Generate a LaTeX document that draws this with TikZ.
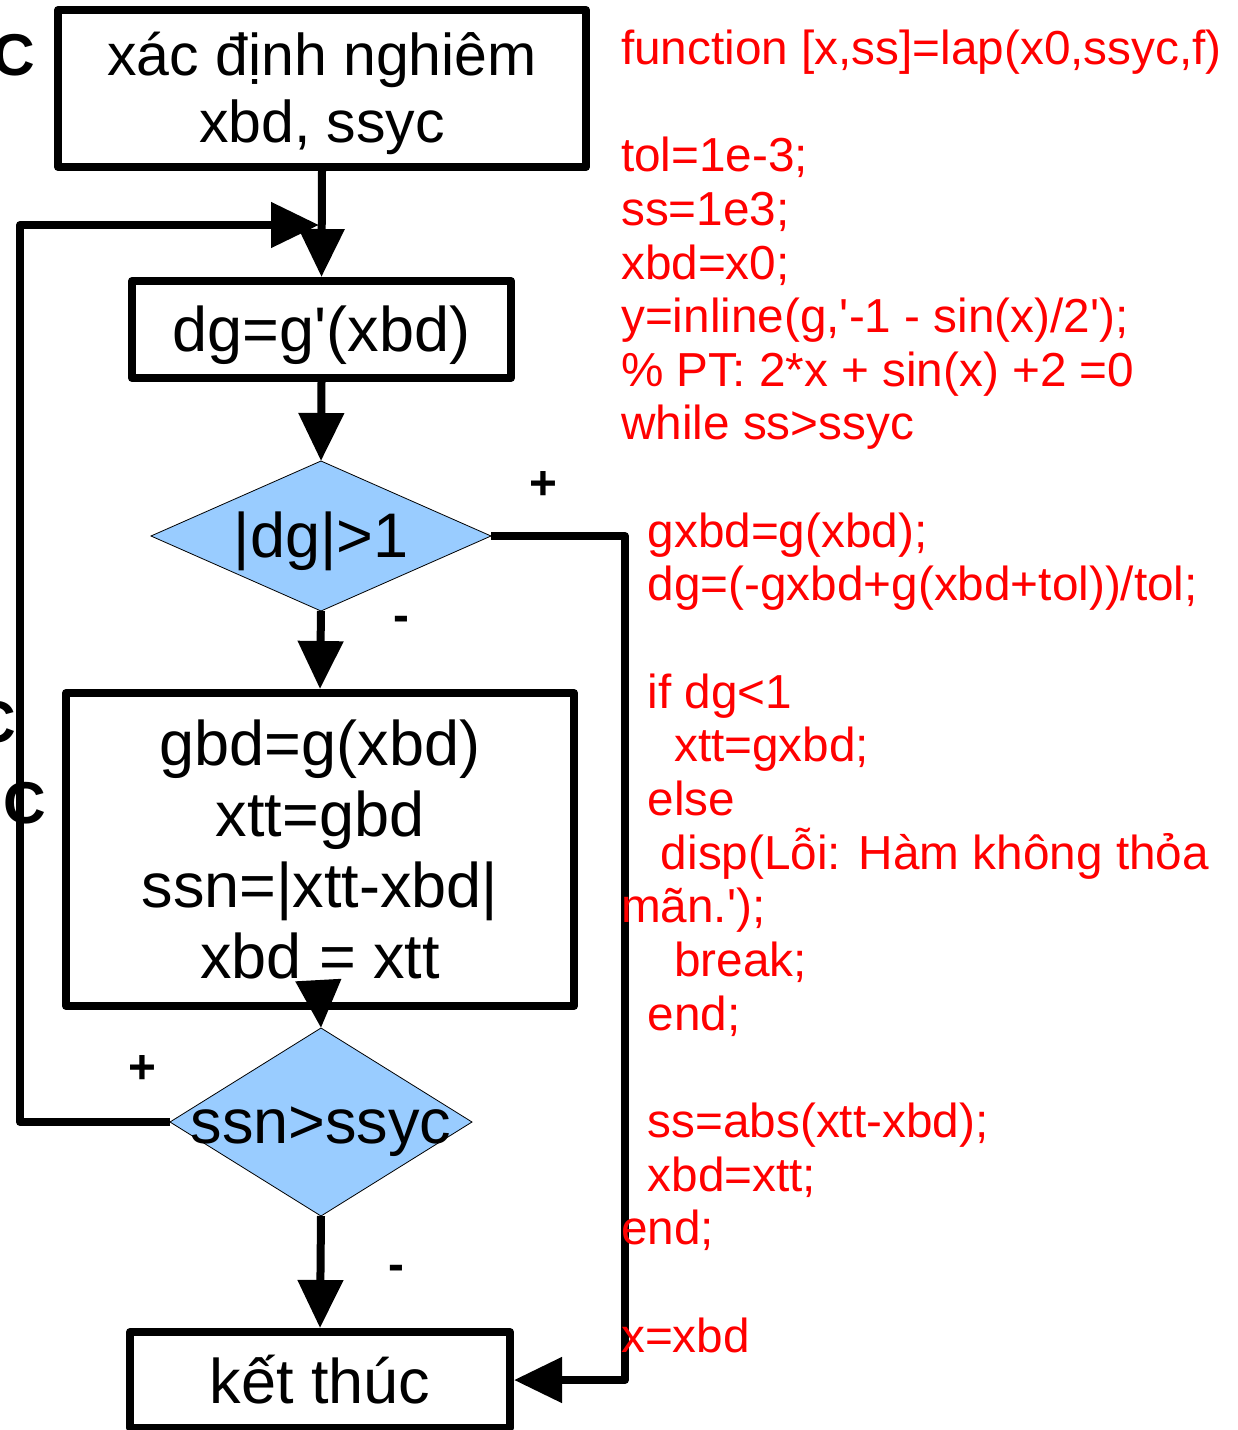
\documentclass[tikz,border=0pt]{standalone}
\usepackage{fontspec}
\setmainfont{Liberation Sans}[Ligatures=TeXOff]
\usetikzlibrary{arrows.meta,shapes.geometric}
\definecolor{decblue}{RGB}{153,204,255}
\definecolor{codered}{RGB}{255,0,0}
\newcommand\indentby[1]{\hspace*{#1\fontdimen2\font}}
\newcommand\lostrut{\vrule width 0pt height 0.905em depth 0.212em\relax}

\begin{document}
\begin{tikzpicture}[x=1pt, y=-1pt, >={Triangle[length=48pt,width=44pt]}]
\tikzset{
  box/.style={draw, line width=8pt, line join=round, inner sep=0pt, align=center, font=\fontsize{63}{71}\selectfont},
  dec/.style={diamond, draw, line width=0.8pt, fill=decblue, inner sep=0pt, outer sep=0pt},
  sign/.style={inner sep=0pt, font=\fontsize{47.7}{54}\selectfont\bfseries},
  cut/.style={inner sep=0pt, anchor=base east, font=\fontsize{59}{66}\selectfont\bfseries},
  code/.style={text=codered, align=left, inner sep=0pt, font=\fontsize{47.7}{53.65}\selectfont},
  link/.style={->, line width=8pt, line join=round}
}
\useasboundingbox (0,0) rectangle (1238,1430);
\clip (0,0) rectangle (1238,1430);

% letters of a neighbouring block, cut by the page edge
\node[cut] (c1) at (35,75) {C};
\node[cut] (c2) at (16,742) {C};
\node[cut] (c3) at (46,823) {IC};

% flowchart
\node[box, minimum width=528pt, minimum height=157pt, font=\fontsize{59}{65}\selectfont] (start) at (322,88.5)
  {\lostrut xác định nghiêm\\\lostrut xbd, ssyc};
\node[box, minimum width=379pt, minimum height=97pt] (grad) at (321.5,329.5) {\lostrut dg=g'(xbd)};
\node[dec, minimum width=340pt, minimum height=150pt,
  label={[font=\fontsize{63}{71}\selectfont]center:{\lostrut|dg|>1}}] (test1) at (321,536) {};
\node[box, minimum width=508pt, minimum height=313pt] (upd) at (320,849.5)
  {gbd=g(xbd)\\xtt=gbd\\ssn=|xtt-xbd|\\xbd = xtt};
\node[dec, minimum width=302pt, minimum height=188pt,
  label={[font=\fontsize{63}{71}\selectfont]center:{\lostrut ssn>ssyc}}] (test2) at (321,1122) {};
\node[box, minimum width=380pt, minimum height=96pt] (stop) at (320,1380) {kết thúc};

\node[sign] (p1) at (543,486) {+};
\node[sign] (m1) at (401,624) {-};
\node[sign] (p2) at (142,1070) {+};
\node[sign] (m2) at (396,1273) {-};

\coordinate (merge) at (319,225);

\draw[link] (start.south) -- (grad.north);
\draw[link] (grad.south) -- (test1.north);
\draw[link] (test1.south) -- (upd.north);
\draw[link] (upd.south) -- (test2.north);
\draw[link] (test2.south) -- (stop.north);
\draw[link] (test1.east) -- ++(134,0) |- (stop.east);
\draw[link] (test2.west) -- ++(-150,0) |- (merge);

% matlab listing
\node[code, anchor=base west] (prog) at (621,1352) {%
function [x,ss]=lap(x0,ssyc,f)\\[53.65pt]
tol=1e-3;\\
ss=1e3;\\
xbd=x0;\\
y=inline(g,'-1 - sin(x)/2');\\
\% PT: 2*x + sin(x) +2 =0\\
while ss>ssyc\\[53.65pt]
\indentby{2}gxbd=g(xbd);\\
\indentby{2}dg=(-gxbd+g(xbd+tol))/tol;\\[53.65pt]
\indentby{2}if dg<1\\
\indentby{4}xtt=gxbd;\\
\indentby{2}else\\
\indentby{3}disp(Lỗi: Hàm không thỏa\\
mãn.');\\
\indentby{4}break;\\
\indentby{2}end;\\[53.65pt]
\indentby{2}ss=abs(xtt-xbd);\\
\indentby{2}xbd=xtt;\\
end;\\[53.65pt]
x=xbd};
\end{tikzpicture}
\end{document}
